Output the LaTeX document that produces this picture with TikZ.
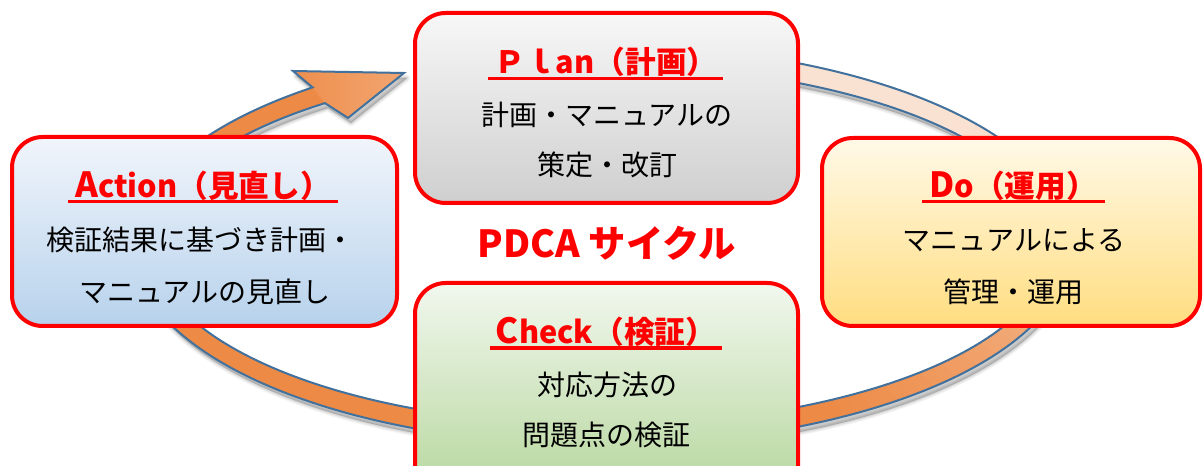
\documentclass[tikz,border=0pt]{standalone}
\usepackage{fontspec}
\setmainfont{Noto Sans CJK JP}
\usetikzlibrary{calc}
\definecolor{bandorange}{HTML}{ED8A45}
\definecolor{bandpeach}{HTML}{FAE2D2}
\definecolor{bandedge}{HTML}{41719C}
\definecolor{headL}{HTML}{EE8F4E}
\definecolor{headR}{HTML}{F2A570}
\definecolor{boxred}{HTML}{FF0000}
\definecolor{planTop}{HTML}{F7F7F7}
\definecolor{planBot}{HTML}{CFCFCF}
\definecolor{actTop}{HTML}{F1F5FB}
\definecolor{actBot}{HTML}{B7D2EC}
\definecolor{doTop}{HTML}{FFF9E8}
\definecolor{doBot}{HTML}{FFDD80}
\definecolor{chkTop}{HTML}{F1F7EE}
\definecolor{chkBot}{HTML}{B5D69B}
\newcommand\bandshape[1]{\path[#1] ({602+470*cos(-75)},{245+200*sin(-75)}) arc[start angle=-75,end angle=232,x radius=470,y radius=200] -- (293,71) -- (404,73) -- (348,118) -- ({602+450*cos(232)},{245+180*sin(232)}) arc[start angle=232,end angle=-75,x radius=450,y radius=180] -- cycle;}
\tikzset{
  cbox/.style={draw=boxred, line width=3pt, rounded corners=23pt, inner sep=0pt},
  ttl/.style={text=boxred, font=\fontsize{23}{23}\selectfont\bfseries, anchor=base, inner sep=0pt},
  bodytxt/.style={font=\fontsize{21}{21}\selectfont, text=black, inner sep=0pt},
  uline/.style={draw=boxred, line width=2.4pt},
  big/.style={font=\fontsize{26}{26}\selectfont\bfseries}
}
\begin{document}
\begin{tikzpicture}[x=0.75pt,y=-0.75pt]
\useasboundingbox (0,0) rectangle (1203,466);
\clip (0,0) rectangle (1203,466);
% shadow of the cycle arrow
\foreach \w/\o in {7/0.035,5/0.045,3/0.055,1/0.07}{
  \bandshape{fill=black, draw=black, line width=\w*0.75pt, opacity=\o, line join=round, shift={(3,5)}}
}
% band body with gradient along the arc
\foreach \a in {-75,-73,...,231}{
  \pgfmathsetmacro\bEnd{min(\a+2.4,232.5)}
  \pgfmathsetmacro\mixv{max(0,min(100,\a+40))}
  \fill[fill=bandorange!\mixv!bandpeach] ({602+470*cos(\a)},{245+200*sin(\a)}) arc[start angle=\a,end angle=\bEnd,x radius=470,y radius=200] -- ({602+450*cos(\bEnd)},{245+180*sin(\bEnd)}) arc[start angle=\bEnd,end angle=\a,x radius=450,y radius=180] -- cycle;
}
\shade[left color=headL, right color=headR] ({602+470*cos(232)},{245+200*sin(232)}) -- (293,71) -- (404,73) -- (348,118) -- ({602+450*cos(232)},{245+180*sin(232)}) -- cycle;
\bandshape{draw=bandedge, line width=1.5pt, line join=miter}

% boxes
\node[cbox, top color=planTop, bottom color=planBot, minimum width=383*0.75pt, minimum height=190*0.75pt] (plan) at (606.5,108) {};
\node[cbox, top color=actTop, bottom color=actBot, minimum width=385*0.75pt, minimum height=189*0.75pt] (act) at (204.5,231.5) {};
\node[cbox, top color=doTop, bottom color=doBot, minimum width=378*0.75pt, minimum height=188*0.75pt] (do) at (1011,232) {};
\node[cbox, top color=chkTop, bottom color=chkBot, minimum width=383*0.75pt, minimum height=217*0.75pt] (chk) at (606.5,391.5) {};

% titles
\node[ttl] (planT) at (606,74) {Ｐｌan（計画）};
\draw[uline] ($(planT.base)+(-118,4.5)$) -- ($(planT.base)+(117,4.5)$);
\node[ttl] (actT) at (203,198) {{\fontsize{26}{26}\selectfont A}ction（見直し）};
\draw[uline] ($(actT.base)+(-135,3.5)$) -- ($(actT.base)+(135,3.5)$);
\node[ttl] (doT) at (1013,198) {{\fontsize{26}{26}\selectfont D}o（運用）};
\draw[uline] ($(doT.base)+(-91,3.5)$) -- ($(doT.base)+(92,3.5)$);
\node[ttl] (chkT) at (606,344) {{\fontsize{26}{26}\selectfont C}heck（検証）};
\draw[uline] ($(chkT.base)+(-116,4)$) -- ($(chkT.base)+(116,4)$);

% body texts
\node[bodytxt] (plan1) at (607,115) {計画・マニュアルの};
\node[bodytxt] (plan2) at (607,165) {策定・改訂};
\node[bodytxt] (act1) at (200,240) {検証結果に基づき計画・};
\node[bodytxt] (act2) at (205,292) {マニュアルの見直し};
\node[bodytxt] (do1) at (1014,240) {マニュアルによる};
\node[bodytxt] (do2) at (1013,292) {管理・運用};
\node[bodytxt] (chk1) at (607,385) {対応方法の};
\node[bodytxt] (chk2) at (606,435) {問題点の検証};

% centre label
\node[font=\fontsize{28}{28}\selectfont\bfseries, text=boxred, anchor=base, inner sep=0pt] (pdca) at (607,258) {PDCA サイクル};
\end{tikzpicture}
\end{document}
